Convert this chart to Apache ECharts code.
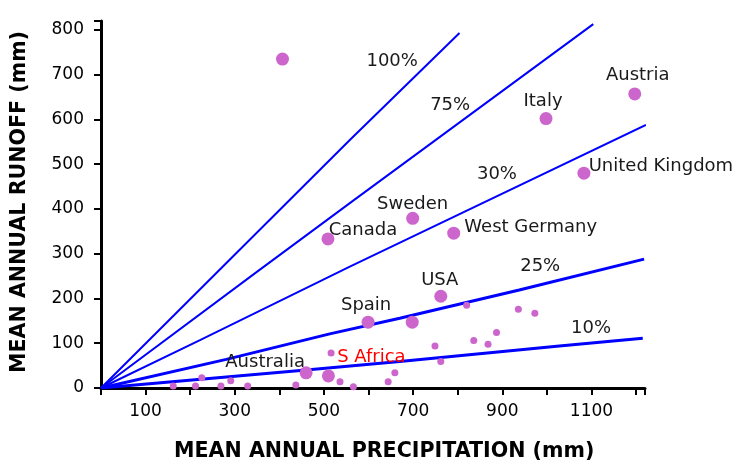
<!DOCTYPE html>
<html>
<head>
<meta charset="utf-8">
<script src="https://cdn.jsdelivr.net/npm/echarts@6/dist/echarts.min.js"></script>
<style>html,body{margin:0;padding:0;background:#fff;}#c{width:739px;height:465px;}</style>
</head>
<body>
<div id="c"></div>
<script>
// ---- data ----
const xTickLabels = [100, 300, 500, 700, 900, 1100];
const yTickLabels = [0, 100, 200, 300, 400, 500, 600, 700, 800];

const countryNames  = ['Austria', 'Italy', 'United Kingdom', 'Sweden', 'Canada', 'West Germany', 'USA', 'Spain', 'Australia', 'S Africa'];
const countryPrecip = [1197, 998, 1083, 699, 509, 791, 762, 599, 460, 510];
const countryRunoff = [657, 602, 480, 379, 333, 346, 205, 147, 34, 27];

const otherLargePrecip = [407, 698];
const otherLargeRunoff = [735, 147];

const smallPrecip = [162, 212, 226, 269, 291, 329, 437, 516, 536, 566, 644, 659, 762, 749, 836, 868, 887, 820, 936, 973];
const smallRunoff = [4.5, 4.5, 23, 4.5, 16, 4.5, 6.7, 78, 14, 3, 14, 34, 59, 94, 106, 98, 124, 185, 176, 167];

const line100 = [[0, 0], [558, 554], [804, 793]];
const line75  = [[0, 0], [345, 256], [558, 413], [1104, 813]];
const line30  = [[0, 0], [222, 107], [558, 271], [1222, 588]];
const line25  = [[0, 0], [281, 64], [513, 121], [670, 156], [938, 219], [1218, 288]];
const line10  = [[0, 0], [460, 40], [670, 59], [1028, 94], [1215, 111]];

const lineLabelNames  = ['100%', '75%', '30%', '25%', '10%'];
const lineLabelPrecip = [653, 783, 888, 985, 1099];
const lineLabelRunoff = [731, 632, 478, 272, 134];

// ---- layout / style (not data) ----
const labelOffsets = {
  'Austria': [3, -19], 'Italy': [-3, -17], 'United Kingdom': [77, -7], 'Sweden': [0, -14],
  'Canada': [35, -9], 'West Germany': [77, -6], 'USA': [-1, -16], 'Spain': [-2, -17],
  'Australia': [-41, -10], 'S Africa': [43, -19]
};
const FONT = 'DejaVu Sans';
const PINK = '#cc66cc';
const BLUE = '#0000ff';
const TXT = '#1a1a1a';

const chart = echarts.init(document.getElementById('c'), null, {renderer: 'canvas'});

function lineSeries(data, w) {
  return {type: 'line', data: data, showSymbol: false, symbol: 'none', silent: true,
          lineStyle: {color: BLUE, width: w}, z: 2, clip: true};
}

const countryData = countryNames.map((n, i) => ({
  name: n, value: [countryPrecip[i], countryRunoff[i]],
  label: {show: true, position: 'inside', offset: labelOffsets[n], formatter: n,
          color: n === 'S Africa' ? '#ff0000' : TXT, fontFamily: FONT, fontSize: 18}
}));

chart.setOption({
  animation: false,
  grid: {left: 101, top: 21, width: 544, height: 367},
  xAxis: {
    type: 'value', min: 0, max: 1220, interval: 100,
    axisLine: {show: true, onZero: false, lineStyle: {color: '#000', width: 3}},
    axisTick: {show: true, length: 7, lineStyle: {color: '#000', width: 2}},
    splitLine: {show: false},
    axisLabel: {
      margin: 15, color: '#000', fontFamily: FONT, fontSize: 17,
      formatter: v => xTickLabels.indexOf(v) >= 0 ? String(v) : ''
    }
  },
  yAxis: {
    type: 'value', min: 0, max: 820, interval: 100,
    axisLine: {show: true, onZero: false, lineStyle: {color: '#000', width: 3}},
    axisTick: {show: true, length: 7, lineStyle: {color: '#000', width: 2}},
    splitLine: {show: false},
    axisLabel: {
      margin: 17, color: '#000', fontFamily: FONT, fontSize: 17,
      formatter: v => yTickLabels.indexOf(v) >= 0 ? String(v) : ''
    }
  },
  graphic: [
    {type: 'text', left: 174, top: 441,
     style: {text: 'MEAN ANNUAL PRECIPITATION (mm)', font: 'bold 20.6px "DejaVu Sans"', fill: '#000'}},
    {type: 'text', x: 9, y: 373, rotation: Math.PI / 2,
     style: {text: 'MEAN ANNUAL RUNOFF (mm)', font: 'bold 20.6px "DejaVu Sans"', fill: '#000'}}
  ],
  series: [
    lineSeries(line100, 2),
    lineSeries(line75, 2),
    lineSeries(line30, 2),
    lineSeries(line25, 3),
    lineSeries(line10, 3),
    {type: 'scatter', silent: true, symbolSize: 7, itemStyle: {color: PINK, opacity: 1}, z: 3,
     data: smallPrecip.map((p, i) => [p, smallRunoff[i]])},
    {type: 'scatter', silent: true, symbolSize: 13, itemStyle: {color: PINK, opacity: 1}, z: 3,
     data: otherLargePrecip.map((p, i) => [p, otherLargeRunoff[i]])},
    {type: 'scatter', silent: true, symbolSize: 13, itemStyle: {color: PINK, opacity: 1}, z: 4,
     data: countryData},
    {type: 'scatter', silent: true, symbolSize: 0, itemStyle: {color: '#ffffff', opacity: 1}, z: 5,
     label: {show: true, position: 'inside', formatter: p => p.name, color: TXT, fontFamily: FONT, fontSize: 18, opacity: 1},
     data: lineLabelNames.map((n, i) => ({name: n, value: [lineLabelPrecip[i], lineLabelRunoff[i]]}))}
  ]
});
</script>
</body>
</html>
